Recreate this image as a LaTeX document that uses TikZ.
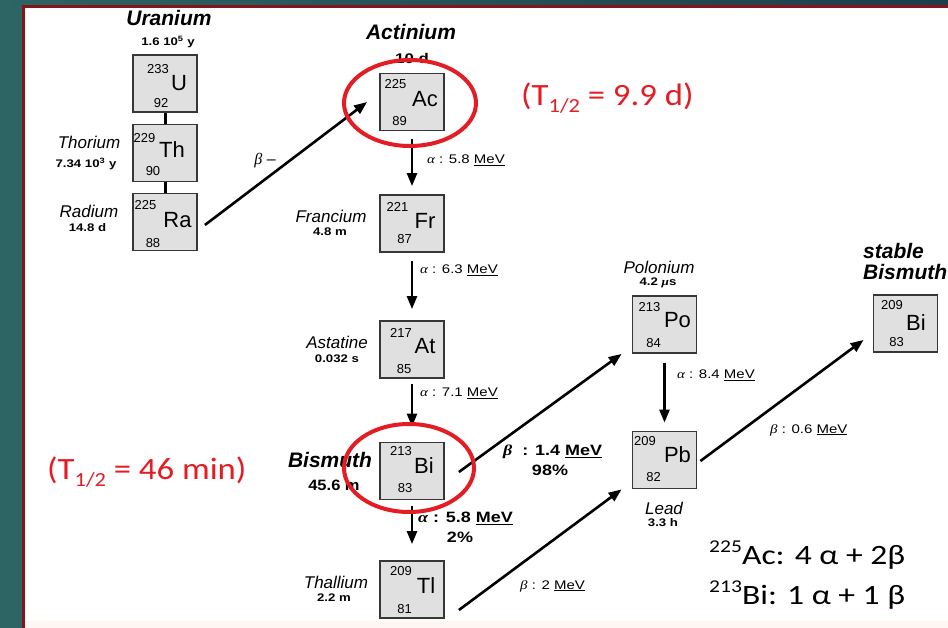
\documentclass[tikz,border=0pt]{standalone}
\usepackage{graphicx}
\usepackage{fontspec}
\setmainfont{Liberation Sans}
\newfontfamily\carl{Carlito}
\newfontfamily\grk{Liberation Serif}
\usetikzlibrary{arrows.meta}
\definecolor{tealbg}{RGB}{45,100,100}
\definecolor{tealtop}{RGB}{25,62,78}
\definecolor{bordred}{RGB}{135,20,25}
\definecolor{hlred}{RGB}{228,28,36}
\definecolor{boxfill}{RGB}{224,224,224}
\definecolor{boxline}{RGB}{55,55,55}
\definecolor{paleband}{RGB}{253,246,242}
\newcommand\fsz[1]{\fontsize{#1}{#1}\selectfont}
\newcommand\hstretch[2]{\scalebox{#1}[1]{#2}}
\newcommand\al{{\grk\itshape α}}
\newcommand\be{{\grk\itshape β}}
\begin{document}
\begin{tikzpicture}[x=1pt,y=-1pt,
  box/.style={draw=boxline,fill=boxfill,line width=1.8pt,minimum width=64pt,minimum height=57pt,inner sep=0pt},
  mass/.style={inner sep=0pt,font=\fsz{13}},
  sym/.style={inner sep=0pt,font=\fsz{22}},
  elem/.style={inner sep=0pt,font=\fsz{17}\itshape},
  belem/.style={inner sep=0pt,font=\fsz{21}\bfseries\itshape},
  half/.style={inner sep=0pt,font=\fsz{11}\bfseries},
  decay/.style={inner sep=0pt,font=\fsz{12.5},anchor=west},
  bdecay/.style={inner sep=0pt,font=\fsz{15}\bfseries},
  arr/.style={line width=2.6pt,-{Triangle[length=13pt,width=10pt]}},
  link/.style={line width=3pt},
  ring/.style={draw=hlred,line width=4pt},
  note/.style={inner sep=0pt,font=\carl\fsz{31},text=hlred},
  sumtxt/.style={inner sep=0pt,font=\carl\fsz{28},anchor=west},
]
\useasboundingbox (0,0) rectangle (948,628);
% background frame
\fill[tealbg] (0,0) rectangle (948,628);
\shade[left color=tealbg,right color=tealtop] (0,0) rectangle (948,5.5);
\fill[bordred] (22,5) rectangle (948,628);
\fill[white] (25,8) rectangle (948,628);
\fill[paleband] (25,621) rectangle (948,628);

% boxes
\node[box] (U)   at (165,83.5) {};
\node[box] (Th)  at (165,153) {};
\node[box] (Ra)  at (165,222) {};
\node[box] (Ac)  at (412,102) {};
\node[box] (Fr)  at (412,223.5) {};
\node[box] (At)  at (412,349.5) {};
\node[box] (Bi)  at (412,471) {};
\node[box] (Tl)  at (412,589.5) {};
\node[box] (Po)  at (664.5,324.5) {};
\node[box] (Pb)  at (664.5,460) {};
\node[box] (BiS) at (905.5,323.5) {};

% box contents
\node[mass] at ([shift={(-7,-14)}]U.center) {233};
\node[sym]  at ([shift={(14,0)}]U.center) {U};
\node[mass] at ([shift={(-4,20)}]U.center) {92};
\node[mass] at ([shift={(-20.5,-15)}]Th.center) {229};
\node[sym]  at ([shift={(7,-3)}]Th.center) {Th};
\node[mass] at ([shift={(-12,18)}]Th.center) {90};
\node[mass] at ([shift={(-19.5,-17)}]Ra.center) {225};
\node[sym]  at ([shift={(12.5,-2)}]Ra.center) {Ra};
\node[mass] at ([shift={(-12,21)}]Ra.center) {88};
\node[mass] at ([shift={(-16.5,-18)}]Ac.center) {225};
\node[sym]  at ([shift={(13,-3)}]Ac.center) {Ac};
\node[mass] at ([shift={(-12.5,19)}]Ac.center) {89};
\node[mass] at ([shift={(-14.5,-17)}]Fr.center) {221};
\node[sym]  at ([shift={(13,-2.5)}]Fr.center) {Fr};
\node[mass] at ([shift={(-7.5,16)}]Fr.center) {87};
\node[mass] at ([shift={(-11,-17)}]At.center) {217};
\node[sym]  at ([shift={(13,-3.5)}]At.center) {At};
\node[mass] at ([shift={(-8,20)}]At.center) {85};
\node[mass] at ([shift={(-11,-20)}]Bi.center) {213};
\node[sym]  at ([shift={(12,-5.5)}]Bi.center) {Bi};
\node[mass] at ([shift={(-7,17)}]Bi.center) {83};
\node[mass] at ([shift={(-11,-18.5)}]Tl.center) {209};
\node[sym]  at ([shift={(14,-3.5)}]Tl.center) {Tl};
\node[mass] at ([shift={(-7.5,19.5)}]Tl.center) {81};
\node[mass] at ([shift={(-15,-17.5)}]Po.center) {213};
\node[sym]  at ([shift={(13,-4)}]Po.center) {Po};
\node[mass] at ([shift={(-11,18.5)}]Po.center) {84};
\node[mass] at ([shift={(-19.5,-18.5)}]Pb.center) {209};
\node[sym]  at ([shift={(13,-5)}]Pb.center) {Pb};
\node[mass] at ([shift={(-11,17)}]Pb.center) {82};
\node[mass] at ([shift={(-13.5,-18.5)}]BiS.center) {209};
\node[sym]  at ([shift={(10.5,-1)}]BiS.center) {Bi};
\node[mass] at ([shift={(-9,19)}]BiS.center) {83};

% element names and half-lives
\node[belem] (nU) at (169,17.5) {Uranium};
\node[half] (hU) at (168,42) {\hstretch{1.2}{1.6 10\textsuperscript{5} y}};
\node[elem] (nTh) at (89,142) {Thorium};
\node[half] (hTh) at (86,164) {\hstretch{1.2}{7.34 10\textsuperscript{3} y}};
\node[elem] (nRa) at (89,211) {Radium};
\node[half] (hRa) at (87.5,228) {\hstretch{1.2}{14.8 d}};
\node[belem] (nAc) at (411,32) {Actinium};
\node[half,font=\fsz{14}\bfseries] (hAc) at (412,58) {\hstretch{1.2}{10 d}};
\node[elem] (nFr) at (331,216) {Francium};
\node[half] (hFr) at (330,232) {\hstretch{1.2}{4.8 m}};
\node[elem] (nAt) at (337,342) {Astatine};
\node[half] (hAt) at (337,359) {\hstretch{1.2}{0.032 s}};
\node[belem] (nBi) at (330,460) {Bismuth};
\node[inner sep=0pt,font=\fsz{15}\bfseries] (hBi) at (334,485) {\hstretch{1.1}{45.6 m}};
\node[elem] (nTl) at (336,582) {Thallium};
\node[half] (hTl) at (334,598) {\hstretch{1.2}{2.2 m}};
\node[elem] (nPo) at (659,267) {Polonium};
\node[half] (hPo) at (658,283) {\hstretch{1.2}{4.2 {\grk\itshape μ}s}};
\node[elem] (nPb) at (664,508) {Lead};
\node[half] (hPb) at (663,523) {\hstretch{1.2}{3.3 h}};
\node[belem,anchor=west] (nS1) at (863,251) {stable};
\node[belem,anchor=west] (nS2) at (863,272) {Bismuth};

% connectors
\draw[link] (U.south) -- (Th.north);
\draw[link] (Th.south) -- (Ra.north);
\draw[arr] ([shift={(7,3)}]Ra.east) -- ([xshift=-12pt]Ac.west);
\draw[arr,shorten <=8pt,shorten >=8pt] (Ac.south) -- (Fr.north);
\draw[arr,shorten <=8pt,shorten >=11pt] (Fr.south) -- (At.north);
\draw[arr,shorten <=5pt,shorten >=15pt] (At.south) -- (Bi.north);
\draw[arr,shorten <=6pt,shorten >=16pt] (Bi.south) -- (Tl.north);
\draw[arr,shorten <=9pt,shorten >=8pt] (Po.south) -- (Pb.north);
\draw[arr] ([shift={(14,1)}]Bi.east) -- ([xshift=-10pt]Po.south west);
\draw[arr] ([shift={(14,20.5)}]Tl.east) -- ([xshift=-10pt]Pb.south west);
\draw[arr] ([shift={(3,1)}]Pb.east) -- ([shift={(-9,-13)}]BiS.south west);

% decay labels
\node[inner sep=0pt,font=\fsz{16}] (dRa) at (265,161) {\be\ –};
\node[decay] (dAc) at (427,160) {\hstretch{1.2}{\al\ : 5.8 \underline{MeV}}};
\node[decay] (dFr) at (420,270) {\hstretch{1.2}{\al\ : 6.3 \underline{MeV}}};
\node[decay] (dAt) at (420,393) {\hstretch{1.2}{\al\ : 7.1 \underline{MeV}}};
\node[bdecay,anchor=west] (dBa) at (418,518) {\hstretch{1.2}{\al\ : 5.8 \underline{MeV}}};
\node[bdecay] (dBa2) at (460,537) {\hstretch{1.2}{2\%}};
\node[bdecay,anchor=west] (dBb) at (503,452) {\hstretch{1.2}{\be\ \ : 1.4 \underline{MeV}}};
\node[bdecay] (dBb2) at (550,470) {\hstretch{1.2}{98\%}};
\node[decay] (dTl) at (520,586) {\hstretch{1.2}{\be\ : 2 \underline{MeV}}};
\node[decay] (dPo) at (677,375) {\hstretch{1.2}{\al\ : 8.4 \underline{MeV}}};
\node[decay] (dPb) at (770,430) {\hstretch{1.2}{\be\ : 0.6 \underline{MeV}}};

% highlights
\draw[ring] ([shift={(-2,1)}]Ac.center) ellipse [x radius=66, y radius=43];
\draw[ring] ([shift={(-3,-3)}]Bi.center) ellipse [x radius=65, y radius=44];
\node[note,anchor=west] (tAc) at (521,98) {\hstretch{1.12}{(T\raisebox{-0.22em}{\fsz{20}1/2} = 9.9 d)}};
\node[note,anchor=west] (tBi) at (47,472) {\hstretch{1.12}{(T\raisebox{-0.22em}{\fsz{20}1/2} = 46 min)}};

% summary
\node[sumtxt] (s1) at (709,555) {\hstretch{1.2}{\raisebox{0.45em}{\fsz{18}225}Ac: 4 α + 2β}};
\node[sumtxt] (s2) at (709,595) {\hstretch{1.2}{\raisebox{0.45em}{\fsz{18}213}Bi: 1 α + 1 β}};
\end{tikzpicture}
\end{document}
